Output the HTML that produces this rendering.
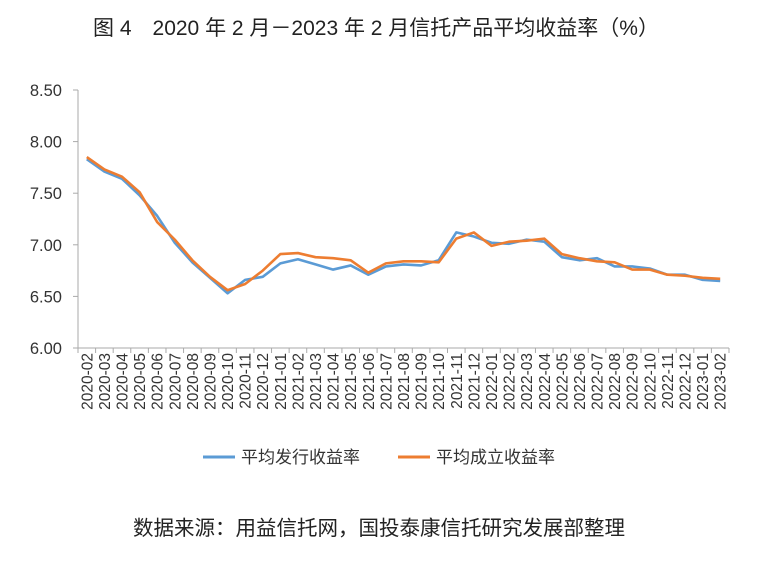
<!DOCTYPE html>
<html><head><meta charset="utf-8"><style>
body{margin:0;background:#fff;}
svg text{font-family:"Liberation Sans","Noto Sans CJK SC",sans-serif;}
</style></head><body>
<svg width="757" height="557" viewBox="0 0 757 557" xmlns="http://www.w3.org/2000/svg">
<text x="376" y="35" text-anchor="middle" font-size="21" fill="#222">图 4　2020 年 2 月－2023 年 2 月信托产品平均收益率（%）</text>
<g id="axes"></g>
<g id="lines"></g>
<g>
<line x1="203" y1="457" x2="235" y2="457" stroke="#5b9bd5" stroke-width="3"/>
<text x="241" y="463" font-size="17" fill="#333">平均发行收益率</text>
<line x1="398" y1="457" x2="430" y2="457" stroke="#ed7d31" stroke-width="3"/>
<text x="436" y="463" font-size="17" fill="#333">平均成立收益率</text>
</g>
<text x="379" y="535" text-anchor="middle" font-size="20.5" fill="#222">数据来源：用益信托网，国投泰康信托研究发展部整理</text>
</svg>
<script>
const categories=["2020-02","2020-03","2020-04","2020-05","2020-06","2020-07","2020-08","2020-09","2020-10","2020-11","2020-12","2021-01","2021-02","2021-03","2021-04","2021-05","2021-06","2021-07","2021-08","2021-09","2021-10","2021-11","2021-12","2022-01","2022-02","2022-03","2022-04","2022-05","2022-06","2022-07","2022-08","2022-09","2022-10","2022-11","2022-12","2023-01","2023-02"];
const issueYield=[7.83,7.71,7.64,7.48,7.28,7.02,6.83,6.68,6.53,6.66,6.69,6.82,6.86,6.81,6.76,6.80,6.71,6.79,6.81,6.80,6.85,7.12,7.08,7.02,7.01,7.05,7.03,6.88,6.85,6.87,6.79,6.79,6.77,6.71,6.71,6.66,6.65];
const establishedYield=[7.85,7.73,7.66,7.51,7.22,7.05,6.85,6.69,6.56,6.62,6.75,6.91,6.92,6.88,6.87,6.85,6.73,6.82,6.84,6.84,6.83,7.06,7.12,6.99,7.03,7.04,7.06,6.91,6.87,6.84,6.83,6.76,6.76,6.71,6.70,6.68,6.67];
const yTicks=[6.0,6.5,7.0,7.5,8.0,8.5];
const NS="http://www.w3.org/2000/svg";
const x0=78,x1=729,yMin=6,yMax=8.5,yB=348,yT=90;
const step=(x1-x0)/categories.length;
const xs=i=>x0+step*(i+0.5);
const ys=v=>yB-(v-yMin)/(yMax-yMin)*(yB-yT);
function mk(t,a,p){const e=document.createElementNS(NS,t);for(const k in a)e.setAttribute(k,a[k]);p.appendChild(e);return e;}
const ax=document.getElementById('axes');
let yl=mk('line',{x1:x0,y1:yT,x2:x0,y2:yB,stroke:'#aaa','stroke-width':1},ax);


let xl=mk('line',{x1:x0,y1:yB,x2:x1,y2:yB,stroke:'#aaa','stroke-width':1},ax);


yTicks.forEach(v=>{
 const y=ys(v);
 mk('line',{x1:x0-5,y1:y,x2:x0,y2:y,stroke:'#aaa'},ax);
 const t=mk('text',{x:x0-16,y:y+6,'text-anchor':'end','font-size':16.5,fill:'#333'},ax);
 t.textContent=v.toFixed(2);
 
 
});
for(let i=0;i<=categories.length;i++){mk('line',{x1:x0+step*i,y1:yB,x2:x0+step*i,y2:yB+5,stroke:'#aaa'},ax);}
categories.forEach((c,i)=>{
 const x=xs(i)+5.5;
 const t=mk('text',{x:x,y:yB+5,'text-anchor':'end','font-size':15.5,fill:'#333',transform:`rotate(-90 ${x} ${yB+5})`},ax);
 t.textContent=c;
 
 
});
const lg=document.getElementById('lines');
[[issueYield,'#5b9bd5','line-issue-yield'],[establishedYield,'#ed7d31','line-established-yield']].forEach(([d,c,n])=>{
 const p=mk('polyline',{points:d.map((v,i)=>xs(i)+','+ys(v)).join(' '),fill:'none',stroke:c,'stroke-width':2.6,'stroke-linejoin':'round'},lg);
 
 
});
</script>
</body></html>
